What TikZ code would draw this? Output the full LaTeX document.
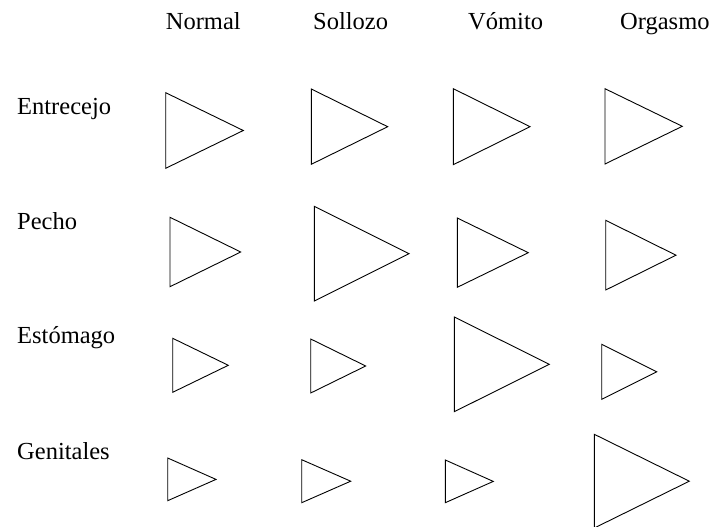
\documentclass[tikz,border=0pt]{standalone}
\usepackage{fontspec}
\setmainfont{Liberation Serif}
\tikzset{
  lbl/.style={anchor=base west, inner sep=0pt, font=\fontsize{24.5}{29}\selectfont},
  tri/.style={draw=black, line width=0.9pt, line join=miter}
}
\begin{document}
\begin{tikzpicture}[x=1pt, y=-1pt]
    \useasboundingbox (0,0) rectangle (713,527);
    % column heads
    \node [lbl] (normal) at (165.7,29.3) {Normal};
    \node [lbl] (sollozo) at (313,29.3) {Sollozo};
    \node [lbl] (vomito) at (468,29.3) {Vómito};
    \node [lbl] (orgasmo) at (620,29.3) {Orgasmo};
    % row heads
    \node [lbl] (entrecejo) at (17,114) {Entrecejo};
    \node [lbl] (pecho) at (17,229) {Pecho};
    \node [lbl] (estomago) at (17,343.3) {Estómago};
    \node [lbl] (genitales) at (17,459) {Genitales};
    % triangles: left x / top / bottom / tip x / tip y
    \foreach \l/\t/\b/\tx/\ty in {
        165.7/92.7/168.3/243.3/130.5, 311.3/89/164.3/387.7/126.7,
        453.3/88.7/164.7/530/126.7, 605/88.7/164/682.3/126.3,
        170/217.3/286.7/240.7/252, 314.3/206.3/301/409/253.7,
        457.3/218/287.3/528.3/252.7, 605.7/220.3/290/676/255.2,
        172.7/338.3/392.3/228.3/365.3, 310.7/339/393/365.7/366,
        454.3/317/411.7/549.3/364.3, 601.7/344.3/399.3/656.7/371.8,
        167.7/458/500.7/216/479.4, 301.7/459.7/502.7/350.7/481.2,
        445.3/460/502.7/493.3/481.4, 594.3/434.3/528/689.3/481.2}
        \draw [tri] (\l,\t) -- (\tx,\ty) -- (\l,\b) -- cycle;
\end{tikzpicture}
\end{document}
